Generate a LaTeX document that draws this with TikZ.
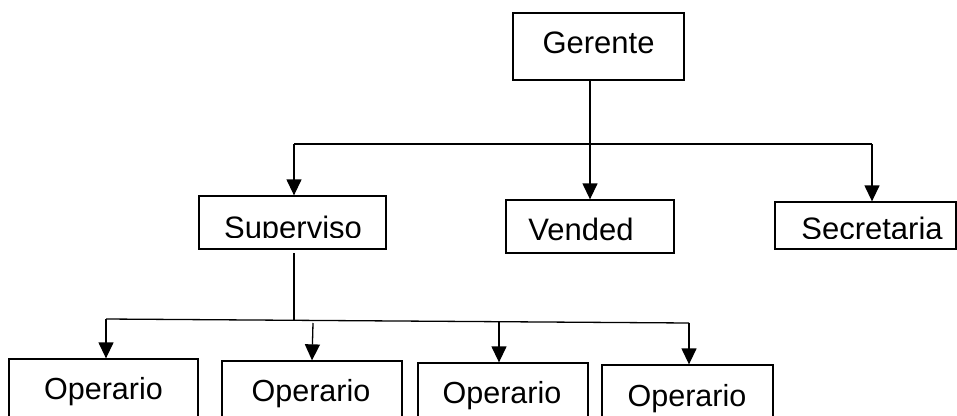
\documentclass[tikz,border=0pt]{standalone}
\usepackage{fontspec}
\setmainfont{Liberation Sans}
\usetikzlibrary{arrows.meta}
\tikzset{
  box/.style={draw, line width=1.3pt, inner sep=0pt},
  lbl/.style={font=\fontsize{31}{36}\selectfont, inner sep=0pt, anchor=base},
  olbl/.style={font=\fontsize{30.5}{36}\selectfont, inner sep=0pt, anchor=base},
  ln/.style={line width=1.3pt},
  arr/.style={line width=1.3pt, -{Triangle[length=16pt,width=15pt]}}
}
\begin{document}
\begin{tikzpicture}[x=1pt,y=-1pt]
\clip (0,0) rectangle (957,415);
\fill[white] (0,0) rectangle (957,415);
% boxes
\node[box, minimum width=171pt, minimum height=67pt] (ger) at (598.5,46.5) {};
\node[box, minimum width=187pt, minimum height=53pt] (sup) at (292.5,222.5) {};
\node[box, minimum width=168pt, minimum height=53pt] (ven) at (590,226.5) {};
\node[box, minimum width=181pt, minimum height=47pt] (sec) at (865.5,225.5) {};
\node[box, minimum width=189pt, minimum height=81pt] (op1) at (103.5,399.5) {};
\node[box, minimum width=180pt, minimum height=81pt] (op2) at (312,401.5) {};
\node[box, minimum width=170pt, minimum height=81pt] (op3) at (503,403.5) {};
\node[box, minimum width=171pt, minimum height=81pt] (op4) at (687.5,405.5) {};
% labels
\node[lbl] (gert) at (598.5,53) {Gerente};
\begin{scope}
  \clip (199,190) rectangle (386,237);
  \node[lbl] (supt) at (293,238.5) {Superviso};
\end{scope}
\node[lbl] (vent) at (581,240) {Vended};
\begin{scope}
  \clip (775,190) rectangle (957,238);
  \node[lbl] (sect) at (872,239.5) {Secretaria};
\end{scope}
\node[olbl] (op1t) at (103.5,399) {Operario};
\node[olbl] (op2t) at (311,401) {Operario};
\node[olbl] (op3t) at (502,403) {Operario};
\node[olbl] (op4t) at (687,406) {Operario};
% connectors, level 1
\coordinate (h1) at (294,144);
\coordinate (h2) at (872,144);
\draw[arr] (ger.south -| ven.north) -- (ven.north);
\draw[ln] (h1) -- (h2);
\draw[arr] (h1) -- (h1 |- sup.north);
\draw[arr] (h2) -- (h2 |- sec.north);
% connectors, level 2
\coordinate (s0) at (294,253);
\coordinate (sj) at (294,319.5);
\coordinate (o1j) at (106,319);
\coordinate (o2j) at (313,323);
\coordinate (o3j) at (499,321);
\coordinate (o4j) at (689,323);
\draw[ln] (s0) -- (sj);
\draw[ln] (o1j) -- (o4j);
\draw[arr] (o1j) -- (o1j |- op1.north);
\draw[arr] (o2j) -- (op2.north);
\draw[arr] (o3j) -- (o3j |- op3.north);
\draw[arr] (o4j) -- (o4j |- op4.north);
\end{tikzpicture}
\end{document}
